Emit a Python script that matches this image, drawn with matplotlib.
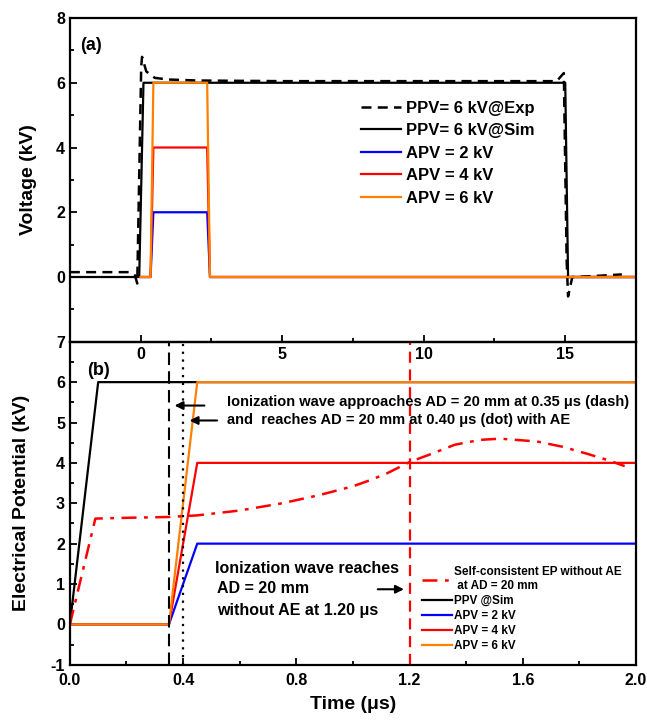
#!/usr/bin/env python3
import matplotlib
matplotlib.use("Agg")
import matplotlib.pyplot as plt
from matplotlib.ticker import MultipleLocator

plt.rcParams['font.family'] = ['Liberation Sans', 'DejaVu Sans']
plt.rcParams['font.weight'] = 'bold'
plt.rcParams['axes.labelweight'] = 'bold'
plt.rcParams['axes.unicode_minus'] = False

BLUE = '#0000ff'
RED = '#ff0000'
ORANGE = '#ff8000'

# ---- panel (a): full pulse
t_exp = [-2.5, -0.4, -0.2, -0.12, 0.02, 0.05, 0.2, 0.5, 1.0, 2.0, 5.0, 10.0,
         14.7, 14.95, 15.05, 15.1, 15.25, 16.0, 17.0]
v_exp = [0.15, 0.15, 0.05, -0.2, 6.5, 6.8, 6.35, 6.15, 6.1, 6.07, 6.05, 6.05,
         6.05, 6.3, 0.5, -0.6, 0.0, 0.03, 0.08]
t_sim_a = [-2.5, -0.05, 0.1, 15.0, 15.1, 17.5]
v_sim_a = [0, 0, 6, 6, 0, 0]
t_apv_a = [0, 0.35, 0.45, 2.35, 2.45, 17.5]
apv_levels = [2, 4, 6]

# ---- panel (b): first 2 us
t_sim_b = [0, 0.1, 2.0]
v_sim_b = [0, 6, 6]
t_apv_b = [0, 0.35, 0.45, 2.0]
t_sc = [0, 0.09, 0.2, 0.35, 0.45, 0.6, 0.75, 0.88, 1.0, 1.06, 1.12, 1.2, 1.28,
        1.36, 1.45, 1.52, 1.65, 1.74, 1.83, 1.9, 1.96]
v_sc = [0, 2.62, 2.64, 2.66, 2.7, 2.82, 3.0, 3.2, 3.42, 3.57, 3.74, 4.02, 4.23,
        4.45, 4.57, 4.6, 4.53, 4.4, 4.22, 4.07, 3.92]

fig = plt.figure(figsize=(6.47, 7.21), dpi=100)
axa = fig.add_axes([0.108, 0.526, 0.875, 0.449])
axb = fig.add_axes([0.108, 0.078, 0.875, 0.448])
axb.patch.set_alpha(0)

for ax in (axa, axb):
    for s in ax.spines.values():
        s.set_linewidth(1.6)
    ax.tick_params(which='both', direction='in', width=1.3, labelsize=11.5)
    ax.tick_params(which='major', length=5)
    ax.tick_params(which='minor', length=3)
axb.tick_params(axis='x', pad=6)

# panel a
axa.plot(t_sim_a, v_sim_a, color='k', lw=1.6, label='PPV= 6 kV@Sim')
axa.plot(t_exp, v_exp, color='k', lw=1.8, ls=(0, (4, 2.5)), label='PPV= 6 kV@Exp')
for lev, c in zip(apv_levels, [BLUE, RED, ORANGE]):
    axa.plot(t_apv_a, [0, 0, lev, lev, 0, 0], color=c, lw=1.6,
             label='APV = %d kV' % lev)
axa.set_xlim(-2.5, 17.5)
axa.set_ylim(-2, 8)
axa.set_xticks([0, 5, 10, 15])
axa.xaxis.set_minor_locator(MultipleLocator(2.5))
axa.set_yticks([0, 2, 4, 6, 8])
axa.yaxis.set_minor_locator(MultipleLocator(1))
axa.set_ylabel('Voltage (kV)', fontsize=14)
axa.yaxis.set_label_coords(-0.058, 0.5)
axa.text(-1.77, 7.14, '(a)', fontsize=13, ha='center', va='center')
h, l = axa.get_legend_handles_labels()
order = [1, 0, 2, 3, 4]
axa.legend([h[i] for i in order], [l[i] for i in order], loc='upper left',
           bbox_to_anchor=(0.515, 0.745), frameon=False, fontsize=12,
           handlelength=2.4, handletextpad=0.3, labelspacing=0.45,
           borderpad=0, borderaxespad=0)

# panel b
axb.plot(t_sim_b, v_sim_b, color='k', lw=1.6, label='PPV @Sim')
for lev, c in zip(apv_levels, [BLUE, RED, ORANGE]):
    axb.plot(t_apv_b, [0, 0, lev, lev], color=c, lw=1.6,
             label='APV = %d kV' % lev)
axb.plot(t_sc, v_sc, color=RED, lw=1.8, ls=(0, (6, 3, 1.5, 3)),
         label='Self-consistent EP without AE\n at AD = 20 mm')
axb.axvline(0.35, color='k', lw=1.5, ls=(0, (6, 3)))
axb.axvline(0.40, color='k', lw=1.6, ls=(0, (1, 2.5)))
axb.axvline(1.2, color=RED, lw=1.6, ls=(0, (5, 3)))
axb.set_xlim(0, 2.0)
axb.set_ylim(-1, 7)
axb.set_xticks([0.0, 0.4, 0.8, 1.2, 1.6, 2.0])
axb.set_xticklabels(['0.0', '0.4', '0.8', '1.2', '1.6', '2.0'])
axb.xaxis.set_minor_locator(MultipleLocator(0.2))
axb.set_yticks(range(-1, 8))
axb.yaxis.set_minor_locator(MultipleLocator(0.5))
axb.set_ylabel('Electrical Potential (kV)', fontsize=14)
axb.yaxis.set_label_coords(-0.07, 0.5)
axb.set_xlabel('Time (\u03bcs)', fontsize=14, labelpad=6)
axb.text(0.1, 6.3, '(b)', fontsize=13, ha='center', va='center')

axb.text(0.555, 5.52, 'Ionization wave approaches AD = 20 mm at 0.35 \u03bcs (dash)',
         fontsize=10.5, va='center')
axb.text(0.555, 5.07, 'and  reaches AD = 20 mm at 0.40 \u03bcs (dot) with AE',
         fontsize=10.5, va='center')
arrow = dict(arrowstyle='-|>', color='k', lw=1.5, mutation_scale=12)
axb.annotate('', xy=(0.36, 5.42), xytext=(0.485, 5.42), arrowprops=arrow)
axb.annotate('', xy=(0.413, 5.05), xytext=(0.53, 5.05), arrowprops=arrow)
axb.text(0.512, 1.39, 'Ionization wave reaches', fontsize=11.5, va='center')
axb.text(0.52, 0.89, 'AD = 20 mm', fontsize=11.5, va='center')
axb.text(0.52, 0.35, 'without AE at 1.20 \u03bcs', fontsize=11.5, va='center')
axb.annotate('', xy=(1.19, 0.87), xytext=(1.078, 0.87), arrowprops=arrow)

h, l = axb.get_legend_handles_labels()
order = [4, 0, 1, 2, 3]
axb.legend([h[i] for i in order], [l[i] for i in order], loc='upper left',
           bbox_to_anchor=(0.622, 0.305), frameon=False, fontsize=8.5,
           handlelength=2.5, handletextpad=0.2, labelspacing=0.25,
           borderpad=0, borderaxespad=0)

fig.savefig('out.png', dpi=100)
